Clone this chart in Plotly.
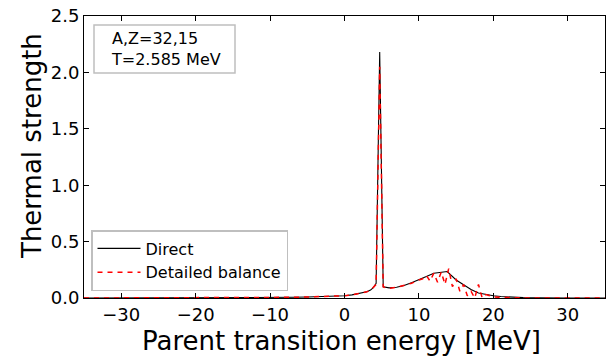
import plotly.graph_objects as go

# ---- data ----
e_direct = [-35, -25, -15, -10, -7, -5, -3, -1, 0, 1, 2, 3, 3.5, 3.9, 4.25, 4.73, 5.2, 5.5,
            6.0, 7.0, 8.0, 9.0, 10.0, 11.0, 12.0, 13.0, 13.8, 15.0, 16.0, 17.0, 18.0, 19.0,
            20.0, 21.0, 22.0, 24.0, 26.0, 28.0, 30.0, 35.0]
s_direct = [0.0, 0.0, 0.001, 0.003, 0.006, 0.009, 0.012, 0.016, 0.02, 0.028, 0.04, 0.055, 0.07,
            0.095, 0.13, 2.18, 0.1, 0.095, 0.09, 0.095, 0.11, 0.135, 0.16, 0.19, 0.22, 0.23,
            0.235, 0.16, 0.115, 0.075, 0.045, 0.03, 0.02, 0.013, 0.008, 0.004, 0.002, 0.0,
            0.0, 0.0]

e_balance = [-35, -25, -15, -10, -7, -5, -3, -1, 0, 1, 2, 3, 3.5, 3.9, 4.25, 4.73, 5.2, 5.5,
             6.0, 7.0, 8.0, 9.0, 10.0, 10.5, 11.0, 11.5, 12.0, 12.5, 13.0, 13.5, 14.0, 14.5,
             15.0, 15.5, 16.0, 16.5, 17.0, 17.5, 18.0, 18.5, 19.0, 20.0, 21.0, 22.0, 24.0,
             26.0, 28.0, 30.0, 35.0]
s_balance = [0.0, 0.0, 0.001, 0.003, 0.006, 0.009, 0.012, 0.016, 0.02, 0.027, 0.04, 0.055,
             0.07, 0.095, 0.12, 2.05, 0.1, 0.09, 0.085, 0.095, 0.11, 0.13, 0.16, 0.17, 0.2,
             0.15, 0.22, 0.14, 0.23, 0.12, 0.26, 0.1, 0.17, 0.06, 0.12, 0.02, 0.06, 0.0,
             0.12, 0.0, 0.03, 0.01, 0.005, 0.002, 0.001, 0.0, 0.0, 0.0, 0.0]

x_ticks = [-30, -20, -10, 0, 10, 20, 30]
y_ticks = [0.0, 0.5, 1.0, 1.5, 2.0, 2.5]

FONT = "DejaVu Sans"

fig = go.Figure()
fig.add_trace(go.Scatter(x=e_direct, y=s_direct, mode="lines", name="Direct",
                         legendgroup="a",
                         line=dict(color="black", width=1.1)))
fig.add_trace(go.Scatter(x=e_balance, y=s_balance, mode="lines", name="Detailed balance",
                         legendgroup="b",
                         line=dict(color="red", width=1.5, dash="5px,5px")))

W, H = 611, 358
L, R, T, B = 84, 6, 16, 60
pw = W - L - R
ph = H - T - B


def px(xp):
    return (xp - L) / pw


def py(yp):
    return (H - B - yp) / ph


axis_common = dict(showline=True, linecolor="black", linewidth=1, mirror="allticks",
                   ticks="inside", ticklen=5, tickwidth=1, tickcolor="black",
                   showgrid=False, zeroline=False,
                   tickfont=dict(family=FONT, size=18, color="black"))

fig.update_layout(
    width=W, height=H,
    margin=dict(l=L, r=R, t=T, b=B),
    paper_bgcolor="white", plot_bgcolor="white",
    font=dict(family=FONT, color="black"),
    xaxis=dict(range=[-35, 35], tickvals=x_ticks, **axis_common),
    yaxis=dict(range=[0, 2.5], tickvals=y_ticks, tickformat=".1f", **axis_common),
    showlegend=True,
    legend=dict(x=px(91), y=py(291), xanchor="left", yanchor="bottom",
                bordercolor="#bfbfbf", borderwidth=1.5, bgcolor="white",
                font=dict(family=FONT, size=16, color="black"),
                tracegroupgap=0, traceorder="normal", itemwidth=43),
)

# axis titles
fig.add_annotation(text="Parent transition energy [MeV]", xref="paper", yref="paper",
                   x=px(341), y=py(341), xanchor="center", yanchor="middle",
                   showarrow=False, font=dict(family=FONT, size=26, color="black"))
fig.add_annotation(text="Thermal strength", xref="paper", yref="paper",
                   x=px(32), y=py(146), xanchor="center", yanchor="middle",
                   textangle=-90, showarrow=False,
                   font=dict(family=FONT, size=26, color="black"))

# info box
fig.add_shape(type="rect", xref="paper", yref="paper",
              x0=px(94), x1=px(235), y0=py(73), y1=py(25),
              line=dict(color="#bfbfbf", width=1.5), fillcolor="white", layer="above")
fig.add_annotation(text="A,Z=32,15<br>T=2.585 MeV", xref="paper", yref="paper",
                   x=px(109), y=py(49), xanchor="left", yanchor="middle",
                   align="left", showarrow=False,
                   font=dict(family=FONT, size=16, color="black"))

fig.write_html("out.html")
